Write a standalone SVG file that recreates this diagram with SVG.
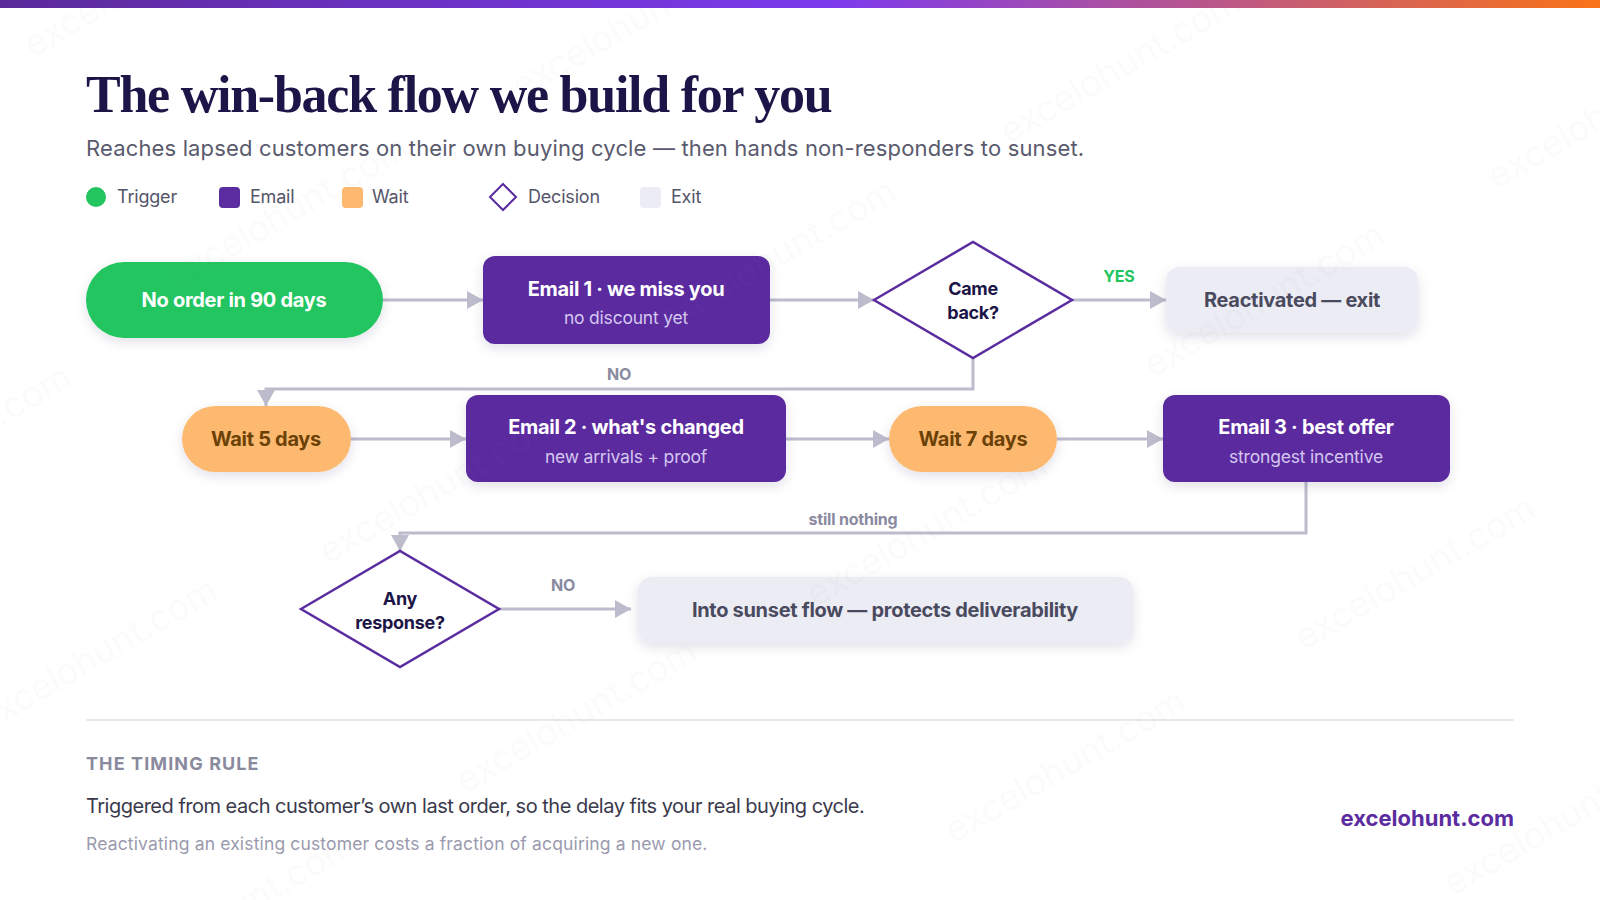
<svg xmlns="http://www.w3.org/2000/svg" width="1600" height="900" viewBox="0 0 1600 900">
<defs>
<linearGradient id="topbar" x1="0" y1="0" x2="1" y2="0">
<stop offset="0" stop-color="#5b2a9a"/>
<stop offset="0.52" stop-color="#7c3aed"/>
<stop offset="0.78" stop-color="#c05a80"/>
<stop offset="1" stop-color="#f97316"/>
</linearGradient>
<filter id="sh" x="-20%" y="-30%" width="140%" height="170%">
<feDropShadow dx="0" dy="4" stdDeviation="6" flood-color="#1c1547" flood-opacity="0.12"/>
</filter>
<marker id="arr" viewBox="0 0 16 18" markerWidth="16" markerHeight="18" refX="16" refY="9" orient="auto" markerUnits="userSpaceOnUse">
<path d="M0,0 L16,9 L0,18 z" fill="#bdbccd"/>
</marker>
<style>
.sans{font-family:Inter,"Noto Sans","Liberation Sans",sans-serif}
.title{font-family:"Liberation Serif","DejaVu Serif",serif;font-weight:700;font-size:52px;fill:#1c1547;letter-spacing:-1.25px}
.sub{font-size:22px;fill:#5a5a6e;letter-spacing:0.15px}
.leg{font-size:18px;fill:#55556a;letter-spacing:-0.2px}
.nt{font-size:20px;font-weight:700;text-anchor:middle;letter-spacing:-0.3px}
.ns{font-size:17.5px;font-weight:400;text-anchor:middle;fill:#d3c7f0;letter-spacing:-0.2px}
.dt{font-size:18px;font-weight:700;text-anchor:middle;fill:#1c1547;letter-spacing:-0.3px}
.lbl{font-size:16px;font-weight:700;text-anchor:middle;fill:#8a8aa0;letter-spacing:-0.2px}
.conn{fill:none;stroke:#bdbccd;stroke-width:3;marker-end:url(#arr)}
.email{fill:#5b2c9f}
.wait{fill:#fdb970}
.exit{fill:#ececf4}
.dia{fill:#ffffff;stroke:#5b2c9f;stroke-width:2.5}
.wm{font-family:Inter,"Liberation Sans",sans-serif;font-size:36px;fill:#8a8aa0;fill-opacity:0.055;text-anchor:middle}
</style>
</defs>
<rect x="0" y="0" width="1600" height="900" fill="#ffffff"/>
<rect x="0" y="0" width="1600" height="8" fill="url(#topbar)"/>

<text class="title" x="86" y="112">The win-back flow we build for you</text>
<text class="sans sub" x="86" y="156">Reaches lapsed customers on their own buying cycle — then hands non-responders to sunset.</text>

<g id="legend" class="sans">
<circle cx="96" cy="197" r="10" fill="#22c55e"/>
<text class="leg" x="117" y="203">Trigger</text>
<rect x="219" y="187" width="21" height="21" rx="4" class="email"/>
<text class="leg" x="250" y="203">Email</text>
<rect x="342" y="187" width="21" height="21" rx="4" class="wait"/>
<text class="leg" x="372" y="203">Wait</text>
<path d="M503,184 L516,197 L503,210 L490,197 z" fill="#fff" stroke="#5b2c9f" stroke-width="2"/>
<text class="leg" x="528" y="203">Decision</text>
<rect x="640" y="187" width="21" height="21" rx="4" class="exit"/>
<text class="leg" x="671" y="203">Exit</text>
</g>

<g id="connectors">
<line class="conn" x1="383" y1="300" x2="483" y2="300"/>
<line class="conn" x1="770" y1="300" x2="874" y2="300"/>
<line class="conn" x1="1072" y1="300" x2="1166" y2="300"/>
<path class="conn" d="M973,358 L973,389 L266,389 L266,406"/>
<line class="conn" x1="351" y1="439" x2="466" y2="439"/>
<line class="conn" x1="786" y1="439" x2="889" y2="439"/>
<line class="conn" x1="1057" y1="439" x2="1163" y2="439"/>
<path class="conn" d="M1306,482 L1306,533 L400,533 L400,551"/>
<line class="conn" x1="499" y1="609" x2="631" y2="609"/>
<text class="sans lbl" x="1119" y="282" style="fill:#22c55e">YES</text>
<text class="sans lbl" x="619" y="380">NO</text>
<text class="sans lbl" x="853" y="525">still nothing</text>
<text class="sans lbl" x="563" y="591">NO</text>
</g>

<g id="trigger" class="sans">
<rect x="86" y="262" width="297" height="76" rx="38" fill="#22c55e" filter="url(#sh)"/>
<text class="nt" x="234" y="307" fill="#ffffff">No order in 90 days</text>
</g>

<g id="email1" class="sans">
<rect x="483" y="256" width="287" height="88" rx="12" class="email" filter="url(#sh)"/>
<text class="nt" x="626" y="296" fill="#ffffff">Email 1 · we miss you</text>
<text class="ns" x="626" y="324">no discount yet</text>
</g>

<g id="came-back" class="sans">
<path d="M874,300 L973,242 L1072,300 L973,358 z" class="dia"/>
<text class="dt" x="973" y="295">Came</text>
<text class="dt" x="973" y="319">back?</text>
</g>

<g id="reactivated" class="sans">
<rect x="1166" y="267" width="252" height="66" rx="14" class="exit" filter="url(#sh)"/>
<text class="nt" x="1292" y="307" fill="#4a4a5e">Reactivated — exit</text>
</g>

<g id="wait5" class="sans">
<rect x="182" y="406" width="169" height="66" rx="33" class="wait" filter="url(#sh)"/>
<text class="nt" x="266" y="446" fill="#6b4106">Wait 5 days</text>
</g>

<g id="email2" class="sans">
<rect x="466" y="395" width="320" height="87" rx="12" class="email" filter="url(#sh)"/>
<text class="nt" x="626" y="434" fill="#ffffff">Email 2 · what's changed</text>
<text class="ns" x="626" y="463">new arrivals + proof</text>
</g>

<g id="wait7" class="sans">
<rect x="889" y="406" width="168" height="66" rx="33" class="wait" filter="url(#sh)"/>
<text class="nt" x="973" y="446" fill="#6b4106">Wait 7 days</text>
</g>

<g id="email3" class="sans">
<rect x="1163" y="395" width="287" height="87" rx="12" class="email" filter="url(#sh)"/>
<text class="nt" x="1306" y="434" fill="#ffffff">Email 3 · best offer</text>
<text class="ns" x="1306" y="463">strongest incentive</text>
</g>

<g id="any-response" class="sans">
<path d="M301,609 L400,551 L499,609 L400,667 z" class="dia"/>
<text class="dt" x="400" y="605">Any</text>
<text class="dt" x="400" y="629">response?</text>
</g>

<g id="sunset" class="sans">
<rect x="638" y="577" width="495" height="66" rx="14" class="exit" filter="url(#sh)"/>
<text class="nt" x="885" y="617" fill="#4a4a5e">Into sunset flow — protects deliverability</text>
</g>

<line x1="86" y1="720" x2="1514" y2="720" stroke="#e8e8ee" stroke-width="2"/>
<g id="footer" class="sans">
<text x="86" y="770" font-size="18" font-weight="700" fill="#8a8a9e" letter-spacing="1.1">THE TIMING RULE</text>
<text x="86" y="813" font-size="20" fill="#3a3a4c" letter-spacing="-0.5">Triggered from each customer’s own last order, so the delay fits your real buying cycle.</text>
<text x="86" y="850" font-size="17.5" fill="#9a9aae" letter-spacing="0.15">Reactivating an existing customer costs a fraction of acquiring a new one.</text>
<text x="1514" y="826" font-size="22" font-weight="700" fill="#5b2c9f" text-anchor="end">excelohunt.com</text>
</g>

<g id="watermarks">
<text class="wm" x="150" y="-10" transform="rotate(-30 150 -10)">excelohunt.com</text>
<text class="wm" x="638" y="32" transform="rotate(-30 638 32)">excelohunt.com</text>
<text class="wm" x="1126" y="77" transform="rotate(-30 1126 77)">excelohunt.com</text>
<text class="wm" x="1614" y="122" transform="rotate(-30 1614 122)">excelohunt.com</text>
<text class="wm" x="294" y="222" transform="rotate(-30 294 222)">excelohunt.com</text>
<text class="wm" x="782" y="266" transform="rotate(-30 782 266)">excelohunt.com</text>
<text class="wm" x="1270" y="310" transform="rotate(-30 1270 310)">excelohunt.com</text>
<text class="wm" x="-43" y="452" transform="rotate(-30 -43 452)">excelohunt.com</text>
<text class="wm" x="445" y="497" transform="rotate(-30 445 497)">excelohunt.com</text>
<text class="wm" x="933" y="540" transform="rotate(-30 933 540)">excelohunt.com</text>
<text class="wm" x="1421" y="583" transform="rotate(-30 1421 583)">excelohunt.com</text>
<text class="wm" x="103" y="665" transform="rotate(-30 103 665)">excelohunt.com</text>
<text class="wm" x="582" y="726" transform="rotate(-30 582 726)">excelohunt.com</text>
<text class="wm" x="1071" y="776" transform="rotate(-30 1071 776)">excelohunt.com</text>
<text class="wm" x="1570" y="829" transform="rotate(-30 1570 829)">excelohunt.com</text>
<text class="wm" x="240" y="920" transform="rotate(-30 240 920)">excelohunt.com</text>
</g>
</svg>
